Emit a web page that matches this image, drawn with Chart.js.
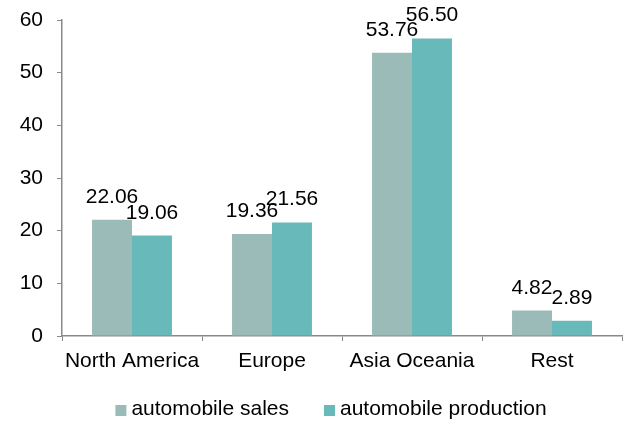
<!DOCTYPE html>
<html><head><meta charset="utf-8">
<script src="https://cdn.jsdelivr.net/npm/chart.js@4"></script>
<style>html,body{margin:0;padding:0;background:#fff}#w{width:628px;height:421px}</style>
</head><body><div id="w"><canvas id="c"></canvas></div>
<script>
const categories = ["North America", "Europe", "Asia Oceania", "Rest"];
const seriesNames = ["automobile sales", "automobile production"];
const sales = [22.06, 19.36, 53.76, 4.82];
const production = [19.06, 21.56, 56.50, 2.89];
const yTicks = [0, 10, 20, 30, 40, 50, 60];
const colors = ['#9BBBB9', '#67BAB9'];
const FONT = "'Liberation Sans', Arial, sans-serif";
const FS = 21;

const labelPlugin = {
  id: 'vals',
  afterDatasetsDraw(chart) {
    const ctx = chart.ctx;
    ctx.save();
    ctx.font = FS + "px " + FONT;
    ctx.fillStyle = "#000";
    ctx.textAlign = "center";
    ctx.textBaseline = "alphabetic";
    chart.data.datasets.forEach((ds, i) => {
      chart.getDatasetMeta(i).data.forEach((bar, j) => {
        ctx.fillText(ds.data[j].toFixed(2), bar.x, bar.y - 17);
      });
    });
    ctx.restore();
  }
};

const legendPlugin = {
  id: 'customLegend',
  afterDraw(chart) {
    const ctx = chart.ctx;
    ctx.save();
    ctx.font = FS + "px " + FONT;
    ctx.textBaseline = "alphabetic";
    ctx.textAlign = "left";
    const box = 11, gap = 5, spacing = 35;
    const ds = chart.data.datasets;
    const widths = ds.map(d => ctx.measureText(d.label).width);
    let total = 0;
    widths.forEach((w, i) => { total += box + gap + w + (i < widths.length - 1 ? spacing : 0); });
    let x = 331 - total / 2;
    const baseline = 415;
    ds.forEach((d, i) => {
      ctx.fillStyle = d.backgroundColor;
      ctx.fillRect(x, baseline - 10, box, box);
      ctx.fillStyle = '#000';
      ctx.fillText(d.label, x + box + gap, baseline);
      x += box + gap + widths[i] + spacing;
    });
    ctx.restore();
  }
};

new Chart(document.getElementById('c'), {
  type: 'bar',
  data: {
    labels: categories,
    datasets: [
      { label: seriesNames[0], data: sales, backgroundColor: colors[0], categoryPercentage: 0.571, barPercentage: 1 },
      { label: seriesNames[1], data: production, backgroundColor: colors[1], categoryPercentage: 0.571, barPercentage: 1 }
    ]
  },
  options: {
    responsive: true, maintainAspectRatio: false, animation: false,
    layout: { padding: { left: 0, right: 6, top: 20, bottom: 35 } },
    plugins: {
      legend: { display: false },
      tooltip: { enabled: false }
    },
    scales: {
      x: {
        afterFit(ax) { ax.height = 50; ax.paddingLeft = 0; ax.paddingRight = 0; },
        grid: { drawOnChartArea: false, drawTicks: true, tickLength: 5, color: '#898989' },
        border: { color: '#898989', width: 1.5 },
        ticks: { font: { size: FS, family: FONT }, color: '#000', padding: 8, minRotation: 0, maxRotation: 0, autoSkip: false }
      },
      y: {
        min: 0, max: 60,
        afterBuildTicks(ax) { ax.ticks = yTicks.map(v => ({ value: v })); },
        afterFit(ax) { ax.width = 62; ax.paddingTop = 0; ax.paddingBottom = 0; },
        grid: { drawOnChartArea: false, drawTicks: true, tickLength: 5, color: '#898989' },
        border: { color: '#898989', width: 1.5 },
        ticks: { font: { size: FS, family: FONT }, color: '#000', padding: 14 }
      }
    }
  },
  plugins: [labelPlugin, legendPlugin]
});
</script></body></html>
